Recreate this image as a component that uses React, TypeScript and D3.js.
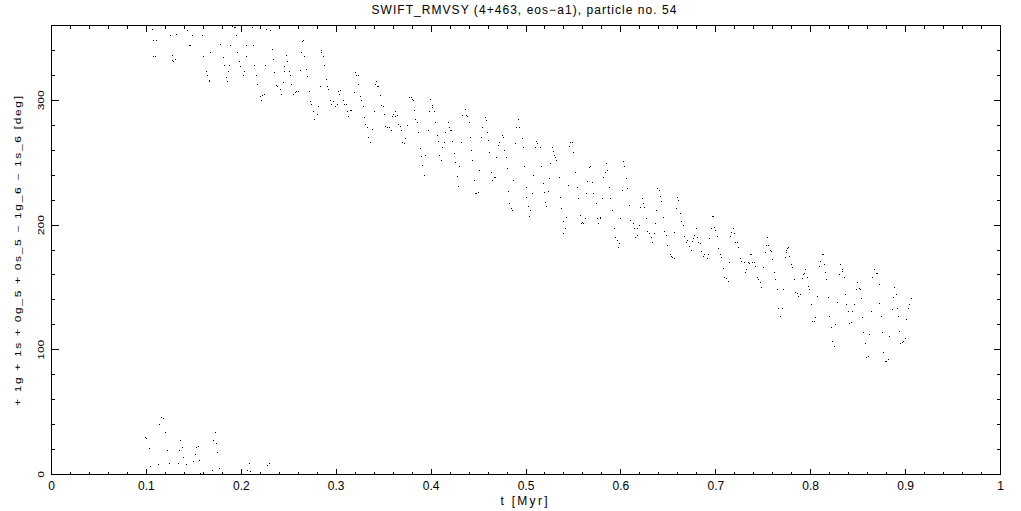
import React from 'react';
import * as d3 from 'd3';

// [t (Myr), angle (deg)] samples
const bandEarly: [number, number][] = [
  [0.106,357],[0.107,348],[0.111,348],[0.108,335],[0.110,335],[0.125,352],[0.132,353],[0.127,336],
  [0.128,332],[0.129,331],[0.131,333],[0.143,356],[0.145,344],[0.146,344],[0.149,352],[0.159,352],
  [0.160,335],[0.163,323],[0.164,320],[0.166,315],[0.167,316],[0.168,338],[0.178,345],[0.181,334],
  [0.182,328],[0.184,318],[0.185,315],[0.186,323],[0.188,328],[0.189,344],[0.191,359],[0.193,358],
  [0.194,358],[0.195,352],[0.196,338],[0.198,331],[0.199,327],[0.202,320],[0.203,323],[0.205,335],
  [0.206,344],[0.212,358],[0.213,344],[0.214,328],[0.216,320],[0.217,313],[0.220,303],[0.221,300],
  [0.222,304],[0.224,305],[0.225,328],[0.227,357],[0.231,356],[0.233,341],[0.234,333],[0.235,322],
  [0.237,312],[0.238,311],[0.241,309],[0.242,305],[0.244,314],[0.245,323],[0.246,327],[0.248,336],
  [0.249,331],[0.251,323],[0.252,320],[0.253,313],[0.255,305],[0.257,306],[0.258,307],[0.260,307],
  [0.262,324],[0.263,338],[0.264,347],[0.266,348],[0.267,335],[0.269,325],[0.270,319],[0.272,307],
  [0.273,299],[0.274,297],[0.276,291],[0.277,285],[0.280,289],[0.281,295],[0.283,311],[0.284,340],
  [0.285,338],[0.287,335],[0.288,328],[0.290,317],[0.291,311],[0.292,309],[0.294,300],[0.295,297],
  [0.297,299],[0.299,295],[0.301,297],[0.302,307],[0.303,305],
];

const bandMid: [number, number][] = [
  [0.305,308],[0.308,300],[0.309,297],[0.311,297],[0.312,291],[0.313,287],[0.315,292],[0.316,292],
  [0.319,306],[0.320,322],[0.321,320],[0.323,320],[0.324,313],[0.326,303],[0.327,300],[0.329,295],
  [0.330,286],[0.331,281],[0.333,278],[0.334,270],[0.336,266],[0.338,277],[0.340,291],[0.341,313],
  [0.342,315],[0.344,311],[0.345,311],[0.347,304],[0.348,296],[0.350,295],[0.351,289],[0.352,279],
  [0.354,278],[0.356,278],[0.358,276],[0.359,287],[0.360,289],[0.362,287],[0.363,291],[0.365,288],
  [0.366,281],[0.368,279],[0.369,276],[0.370,266],[0.372,265],[0.373,269],[0.375,280],[0.377,302],
  [0.379,302],[0.380,301],[0.381,300],[0.383,292],[0.384,285],[0.386,282],[0.387,274],[0.389,261],
  [0.390,255],[0.391,248],[0.393,240],[0.394,256],[0.397,276],[0.398,291],[0.399,301],[0.401,296],
  [0.402,294],[0.404,291],[0.405,282],[0.407,272],[0.408,267],[0.409,256],[0.411,252],[0.412,262],
  [0.414,266],[0.415,274],[0.418,282],[0.419,278],[0.420,276],[0.422,276],[0.423,267],[0.425,257],
  [0.426,250],[0.428,239],[0.429,231],[0.430,247],[0.432,266],[0.433,288],[0.436,293],[0.437,288],
  [0.438,287],[0.440,282],[0.441,270],[0.443,260],[0.444,252],[0.446,236],[0.447,225],[0.448,225],
  [0.450,226],[0.451,244],[0.453,270],[0.454,278],[0.457,286],[0.458,284],[0.459,274],[0.461,268],
  [0.462,258],[0.464,242],[0.465,236],[0.467,238],[0.468,238],[0.469,254],[0.471,264],[0.472,266],
  [0.475,272],[0.476,270],[0.477,260],[0.479,254],[0.480,245],[0.482,227],[0.483,217],[0.485,213],
  [0.486,212],[0.487,236],[0.489,265],[0.490,278],[0.492,285],[0.493,278],[0.496,269],[0.497,262],
  [0.498,247],[0.500,230],[0.501,222],[0.503,215],[0.504,207],[0.505,212],[0.507,225],[0.508,240],
];

const bandLate: [number, number][] = [
  [0.510,262],[0.511,267],[0.512,265],[0.515,262],[0.516,247],[0.518,233],[0.519,226],[0.521,218],
  [0.522,215],[0.524,227],[0.525,237],[0.526,249],[0.528,262],[0.529,259],[0.530,256],[0.531,254],
  [0.532,252],[0.535,238],[0.536,222],[0.537,213],[0.539,203],[0.540,193],[0.542,197],[0.543,206],
  [0.545,232],[0.546,263],[0.547,266],[0.549,266],[0.550,258],[0.552,242],[0.554,230],[0.555,221],
  [0.557,208],[0.558,201],[0.560,202],[0.561,201],[0.563,205],[0.564,225],[0.565,235],[0.567,246],
  [0.568,247],[0.570,234],[0.571,225],[0.574,217],[0.575,205],[0.576,201],[0.578,205],[0.579,206],
  [0.581,221],[0.582,238],[0.584,242],[0.585,249],[0.586,244],[0.588,230],[0.589,221],[0.591,212],
  [0.593,197],[0.594,190],[0.596,188],[0.597,182],[0.599,185],[0.600,205],[0.602,228],[0.603,251],
  [0.604,247],[0.606,237],[0.607,229],[0.609,216],[0.610,204],[0.613,201],[0.614,197],[0.615,190],
  [0.617,192],[0.618,197],[0.620,200],[0.621,214],[0.623,221],[0.624,217],[0.625,214],[0.627,205],
  [0.628,195],[0.630,193],[0.632,190],[0.633,186],[0.635,193],[0.636,201],[0.638,212],[0.639,229],
  [0.641,228],[0.642,223],[0.643,219],[0.645,206],[0.646,195],[0.648,192],[0.649,184],[0.652,176],
  [0.653,175],[0.654,174],[0.656,173],[0.657,194],[0.659,213],[0.660,222],[0.661,220],[0.663,209],
  [0.664,203],[0.666,200],[0.667,191],[0.669,186],[0.670,188],[0.672,183],[0.674,180],[0.675,187],
  [0.677,189],[0.678,192],[0.680,197],[0.681,190],[0.682,186],[0.684,185],[0.685,179],[0.687,175],
  [0.688,176],[0.691,173],[0.692,176],[0.693,189],[0.695,197],[0.696,207],[0.698,207],[0.699,198],
  [0.700,196],[0.702,191],[0.703,181],[0.705,176],[0.706,174],[0.708,165],[0.709,158],[0.711,157],
  [0.713,155],[0.714,170],
];

const bandEnd: [number, number][] = [
  [0.716,191],[0.717,194],[0.719,197],[0.720,193],[0.721,186],[0.723,186],[0.724,182],[0.726,173],
  [0.727,171],[0.730,170],[0.731,162],[0.732,164],[0.734,170],[0.735,169],[0.737,176],[0.738,176],
  [0.739,170],[0.741,170],[0.742,167],[0.744,158],[0.745,156],[0.747,154],[0.748,150],[0.750,166],
  [0.752,178],[0.753,184],[0.755,190],[0.756,184],[0.758,180],[0.759,179],[0.760,172],[0.762,162],
  [0.763,156],[0.765,148],[0.766,133],[0.768,127],[0.770,133],[0.771,148],[0.773,174],[0.774,178],
  [0.775,180],[0.776,181],[0.777,182],[0.778,175],[0.780,168],[0.781,166],[0.783,156],[0.784,146],
  [0.786,145],[0.787,143],[0.789,144],[0.791,157],[0.792,160],[0.793,161],[0.795,164],[0.797,158],
  [0.798,151],[0.799,148],[0.801,136],[0.802,123],[0.804,123],[0.805,126],[0.807,143],[0.809,167],
  [0.810,171],[0.812,176],[0.813,176],[0.815,168],[0.816,162],[0.817,156],[0.819,142],[0.820,127],
  [0.822,118],[0.823,107],[0.825,103],[0.826,120],[0.828,138],[0.830,160],[0.831,168],[0.833,164],
  [0.834,163],[0.836,158],[0.837,144],[0.838,136],[0.840,131],[0.841,121],[0.843,122],[0.844,131],
  [0.846,136],[0.848,148],[0.849,154],[0.851,149],[0.852,148],[0.854,141],[0.855,126],[0.856,114],
  [0.858,105],[0.859,94],[0.861,95],[0.862,112],[0.864,131],[0.865,158],[0.867,164],[0.869,161],
  [0.870,161],[0.872,152],[0.873,137],[0.875,127],[0.876,114],[0.877,98],[0.879,91],[0.880,91],
  [0.882,92],[0.883,111],[0.886,132],[0.887,142],[0.888,150],[0.890,144],[0.891,133],[0.893,127],
  [0.894,115],[0.895,105],[0.897,106],[0.898,107],[0.900,109],[0.901,124],[0.903,133],[0.904,136],
  [0.906,141],
];

// points that wrapped past 360 deg back to small angles
const wrapped: [number, number][] = [
  [0.116,45.5],[0.118,45],[0.114,40],[0.099,29.5],[0.100,28.7],[0.103,20.6],[0.104,6.2],[0.113,7.8],
  [0.120,33.5],[0.122,19],[0.124,8.6],[0.134,8.6],[0.136,27.1],[0.135,19],[0.138,21.4],[0.139,13.4],
  [0.142,7.8],[0.150,10.2],[0.152,15.8],[0.153,21.4],[0.155,22.2],[0.156,11],[0.157,0.6],[0.170,3],
  [0.171,27.1],[0.173,33.5],[0.174,24.7],[0.175,17.4],[0.177,4.6],[0.207,3],[0.209,8.6],[0.210,2.2],
  [0.228,7],[0.230,8.6],
];

const xMajor = [0, 0.1, 0.2, 0.3, 0.4, 0.5, 0.6, 0.7, 0.8, 0.9, 1];
const xLabels = ['0', '0.1', '0.2', '0.3', '0.4', '0.5', '0.6', '0.7', '0.8', '0.9', '1'];
const yMajor = [0, 100, 200, 300];
const yLabels = ['0', '100', '200', '300'];

const titleText = 'SWIFT_RMVSY (4+463, eos\u2212a1), particle no. 54';
const xTitle = 't [Myr]';
const yTitle = '+ 1g + 1s + 0g_5 + 0s_5 \u2212 1g_6 \u2212 1s_6 [deg]';

const W = 1021;
const H = 511;
const FONT = '"Liberation Sans", Arial, sans-serif';

export default function App() {
  const x = d3.scaleLinear().domain([0, 1]).range([51.5, 1000.5]);
  const y = d3.scaleLinear().domain([0, 360]).range([474.5, 25.5]);
  const [x0, x1] = x.range();
  const [y0, y1] = y.range();

  const xMinor = d3.range(0, 1.0001, 0.02).map((v) => +v.toFixed(2));
  const yMinor = d3.range(0, 360.001, 20);

  const all = [...bandEarly, ...bandMid, ...bandLate, ...bandEnd, ...wrapped];

  const isMajorX = (v: number) => xMajor.some((m) => Math.abs(m - v) < 1e-6);
  const isMajorY = (v: number) => yMajor.includes(v);

  const ticks: JSX.Element[] = [];
  xMinor.forEach((v, i) => {
    const len = isMajorX(v) ? 6 : 3;
    const px = Math.round(x(v) - 0.5) + 0.5;
    ticks.push(<line key={'xb' + i} x1={px} x2={px} y1={y0} y2={y0 - len} />);
    ticks.push(<line key={'xt' + i} x1={px} x2={px} y1={y1} y2={y1 + len} />);
  });
  yMinor.forEach((v, i) => {
    const len = isMajorY(v) ? 7 : 3.5;
    const py = Math.round(y(v) - 0.5) + 0.5;
    ticks.push(<line key={'yl' + i} x1={x0} x2={x0 + len} y1={py} y2={py} />);
    ticks.push(<line key={'yr' + i} x1={x1} x2={x1 - len} y1={py} y2={py} />);
  });

  return (
    <svg
      width={W}
      height={H}
      viewBox={`0 0 ${W} ${H}`}
      style={{ position: 'fixed', left: 0, top: 0, display: 'block', background: '#fff' }}
    >
      <rect x={0} y={0} width={W} height={H} fill="#fff" />
      <text
        x={524}
        y={14}
        textAnchor="middle"
        fontFamily={FONT}
        fontSize={12}
        textLength={305}
        lengthAdjust="spacing"
        fill="#000"
      >
        {titleText}
      </text>
      <g fill="#000" shapeRendering="crispEdges">
        {all.map(([t, a], i) => (
          <rect key={i} x={Math.floor(x(t))} y={Math.floor(y(a))} width={1} height={1} />
        ))}
      </g>
      <g stroke="#000" strokeWidth={1} shapeRendering="crispEdges" fill="none">
        <rect x={x0} y={y1} width={x1 - x0} height={y0 - y1} />
        {ticks}
      </g>
      <g fontFamily={FONT} fontSize={12} fill="#000" textAnchor="middle">
        {xMajor.map((v, i) => (
          <text key={'xl' + i} x={x(v)} y={490}>
            {xLabels[i]}
          </text>
        ))}
        <text x={524} y={505} textLength={47} lengthAdjust="spacing">
          {xTitle}
        </text>
        {yMajor.map((v, i) => (
          <g key={'yl' + i} transform={`translate(43.5, ${y(v)}) rotate(-90) scale(1, 0.72)`}>
            <text x={0} y={0}>{yLabels[i]}</text>
          </g>
        ))}
        <g transform={`translate(20.5, 251) rotate(-90) scale(1, 0.72)`}>
          <text x={0} y={0} textLength={310} lengthAdjust="spacing">
            {yTitle}
          </text>
        </g>
      </g>
    </svg>
  );
}
